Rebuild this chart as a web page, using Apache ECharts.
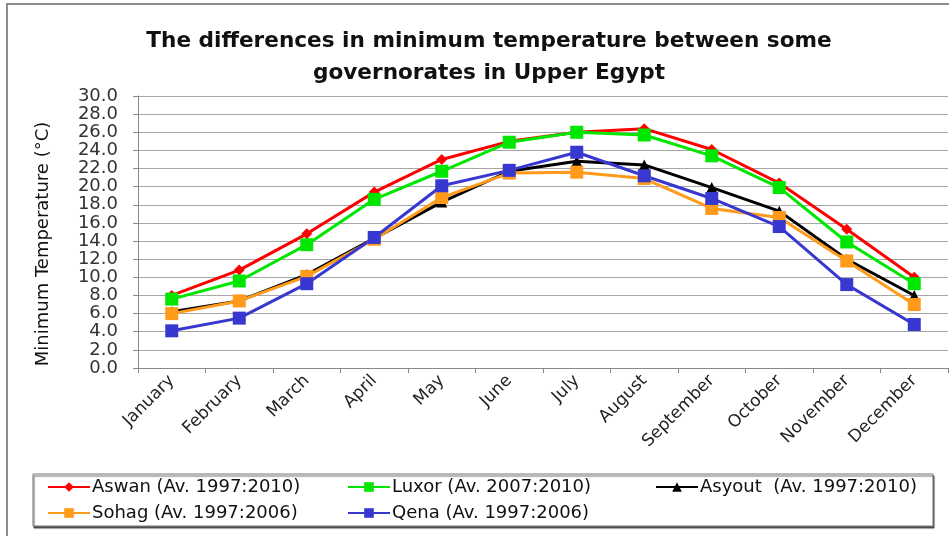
<!DOCTYPE html>
<html>
<head>
<meta charset="utf-8">
<script src="https://cdn.jsdelivr.net/npm/echarts@6/dist/echarts.min.js"></script>
<style>
  html, body { margin: 0; padding: 0; background: #fff; }
  #tempChart { width: 949px; height: 536px; }
</style>
</head>
<body>
<div id="tempChart"></div>
<script>
const months = ['January', 'February', 'March', 'April', 'May', 'June', 'July', 'August', 'September', 'October', 'November', 'December']
const aswan = [8.0, 10.8, 14.8, 19.4, 23.0, 25.0, 26.0, 26.4, 24.1, 20.4, 15.3, 10.0]
const luxor = [7.6, 9.6, 13.6, 18.6, 21.7, 24.9, 26.0, 25.7, 23.4, 19.9, 13.9, 9.3]
const asyout = [6.2, 7.4, 10.3, 14.3, 18.3, 21.7, 22.8, 22.4, 19.9, 17.3, 12.0, 8.0]
const sohag = [6.0, 7.4, 10.1, 14.2, 18.8, 21.5, 21.6, 20.9, 17.6, 16.6, 11.8, 7.0]
const qena = [4.1, 5.5, 9.3, 14.4, 20.1, 21.8, 23.8, 21.2, 18.7, 15.6, 9.2, 4.8]
const yTicks = [0, 30, 2]

const font = 'DejaVu Sans, sans-serif'

const chartDom = document.getElementById('tempChart')
const tempChart = echarts.init(chartDom)

function makeSeries(name, data, color, symbol, size) {
  return {
    name: name,
    type: 'line',
    data: data,
    symbol: symbol,
    symbolSize: size,
    lineStyle: { color: color, width: 3 },
    itemStyle: { color: color },
    emphasis: { disabled: true }
  }
}

function makeLegend(name, left, top) {
  return {
    data: [name],
    left: left,
    top: top,
    itemWidth: 42,
    itemHeight: 12,
    padding: 0,
    textStyle: { fontFamily: font, fontSize: 18, color: '#111', padding: [0, 0, 0, -3] }
  }
}

const option = {
  animation: false,
  title: {
    text: 'The differences in minimum temperature between some\ngovernorates in Upper Egypt',
    left: 484,
    top: 20,
    textAlign: 'center',
    textStyle: { fontFamily: font, fontSize: 21.6, fontWeight: 'bold', color: '#111', lineHeight: 32 }
  },
  graphic: [
    {
      type: 'rect',
      shape: { x: 7, y: 4, width: 960, height: 560 },
      style: { fill: 'none', stroke: '#8c8c8c', lineWidth: 2 },
      silent: true
    },
    {
      type: 'rect',
      shape: { x: 33, y: 474, width: 900, height: 52 },
      style: { fill: '#fff', stroke: '#777', lineWidth: 1, shadowColor: 'rgba(0,0,0,0.6)', shadowOffsetX: 1, shadowOffsetY: 2, shadowBlur: 1 },
      z: -1,
      silent: true
    }
  ],
  legend: [
    makeLegend('Aswan (Av. 1997:2010)', 47, 478),
    makeLegend('Luxor (Av. 2007:2010)', 347, 478),
    makeLegend('Asyout  (Av. 1997:2010)', 655, 478),
    makeLegend('Sohag (Av. 1997:2006)', 47, 504),
    makeLegend('Qena (Av. 1997:2006)', 347, 504)
  ],
  grid: {
    left: 138,
    top: 96,
    right: 1,
    bottom: 168
  },
  xAxis: {
    type: 'category',
    data: months,
    boundaryGap: true,
    axisLine: { lineStyle: { color: '#888' } },
    axisTick: { show: true, length: 5, lineStyle: { color: '#888' } },
    axisLabel: {
      rotate: 45,
      interval: 0,
      fontFamily: font,
      fontSize: 17,
      color: '#222',
      margin: 10
    }
  },
  yAxis: {
    type: 'value',
    min: yTicks[0],
    max: yTicks[1],
    interval: yTicks[2],
    name: 'Minimum Temperature (°C)',
    nameLocation: 'middle',
    nameGap: 86,
    nameTextStyle: { fontFamily: font, fontSize: 18, color: '#111', padding: [0, 24, 0, 0] },
    axisLine: { show: true, lineStyle: { color: '#888' } },
    axisTick: { show: true, length: 5, lineStyle: { color: '#888' } },
    axisLabel: {
      fontFamily: font,
      fontSize: 18,
      color: '#333',
      margin: 20,
      formatter: v => v.toFixed(1)
    },
    splitLine: { lineStyle: { color: '#a6a6a6', width: 1 } }
  },
  series: [
    makeSeries('Aswan (Av. 1997:2010)', aswan, '#ff0000', 'diamond', 11),
    makeSeries('Luxor (Av. 2007:2010)', luxor, '#00e600', 'rect', 13),
    makeSeries('Asyout  (Av. 1997:2010)', asyout, '#000000', 'triangle', 11),
    makeSeries('Sohag (Av. 1997:2006)', sohag, '#ff9a1a', 'rect', 13),
    makeSeries('Qena (Av. 1997:2006)', qena, '#3838d0', 'rect', 13)
  ]
}

option && tempChart.setOption(option)
</script>
</body>
</html>
